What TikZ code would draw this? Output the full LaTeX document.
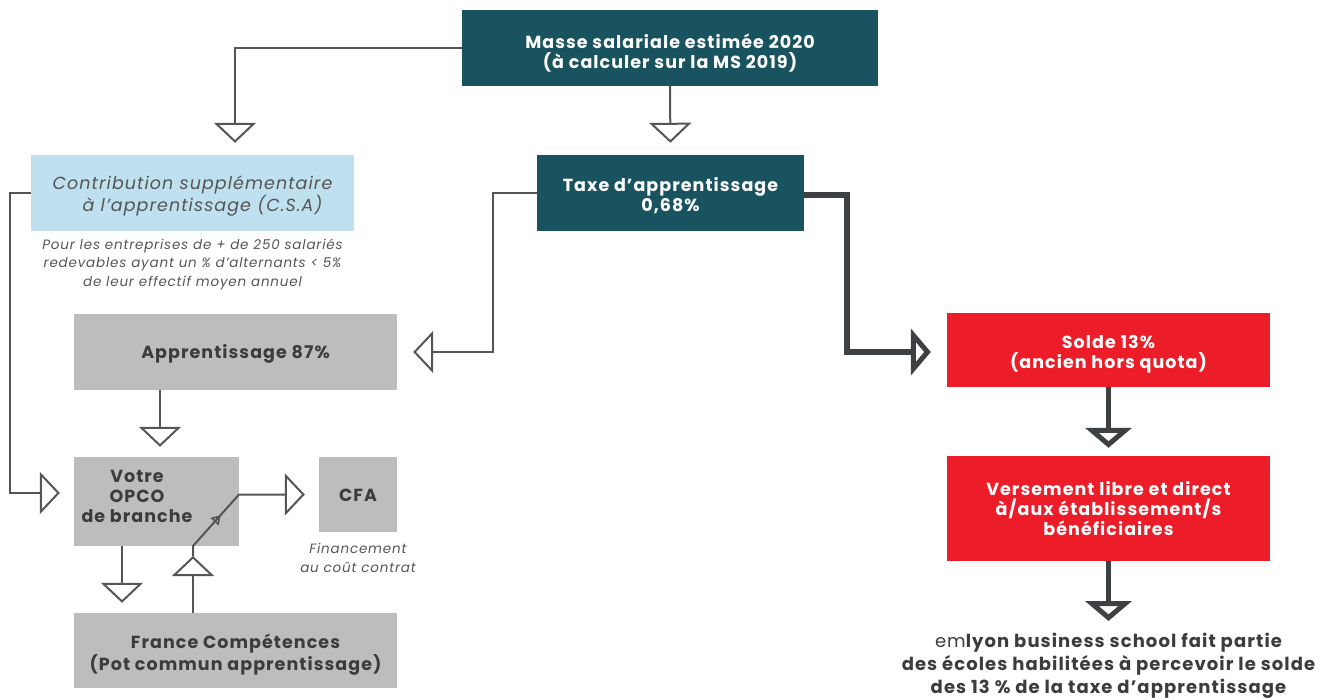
\documentclass[tikz,border=0pt]{standalone}
\usepackage{fontspec}
\setmainfont{Poppins}[LetterSpace=6]
\usetikzlibrary{arrows.meta,decorations.markings}
\definecolor{boxteal}{HTML}{1A5360}
\definecolor{boxblue}{HTML}{BEE0EF}
\definecolor{boxgray}{HTML}{BDBDBD}
\definecolor{boxred}{HTML}{EC1C28}
\definecolor{txtdark}{HTML}{3C3C3C}
\definecolor{txtgray}{HTML}{555555}
\definecolor{linegray}{HTML}{555555}
\definecolor{linedark}{HTML}{3D4143}
\begin{document}
\begin{tikzpicture}[x=1pt,y=-1pt,
  box/.style={inner sep=0pt},
  tealbox/.style={box, fill=boxteal},
  redbox/.style={box, fill=boxred},
  graybox/.style={box, fill=boxgray},
  bluebox/.style={box, fill=boxblue},
  btext/.style={inner sep=0pt, align=center, font=\fontsize{17.5}{20}\selectfont\bfseries},
  wtext/.style={btext, text=white},
  dtext/.style={btext, text=txtdark},
  itext/.style={inner sep=0pt, align=center, text=txtgray, font=\fontsize{17.5}{20}\selectfont\itshape},
  note/.style={inner sep=0pt, align=center, text=txtgray, font=\fontsize{13.5}{18.5}\selectfont\itshape},
  thinline/.style={draw=linegray, line width=2pt},
  thintip/.style={-{Triangle[open,length=20pt,width=42pt]}},
  thinarrow/.style={thinline, thintip},
  thickline/.style={draw=linedark, line width=5.5pt},
  thickarrow/.style={thickline, -{Triangle[open,length=20pt,width=46pt]}},
]
\useasboundingbox (0,0) rectangle (1330,700);

% boxes
\node[tealbox, minimum width=416pt, minimum height=76pt,
  label={[wtext, yshift=-5pt]center:{Masse salariale estimée 2020\\(à calculer sur la MS 2019)}}] (masse) at (670,48) {};
\node[tealbox, minimum width=267pt, minimum height=76pt,
  label={[wtext, yshift=-3pt]center:{Taxe d’apprentissage\\0,68\%}}] (taxe) at (670.5,193) {};
\node[bluebox, minimum width=323pt, minimum height=76pt,
  label={[itext, yshift=-3pt]center:{Contribution supplémentaire\\\hspace*{20pt}à l’apprentissage (C.S.A)}}] (csa) at (192.5,193) {};
\node[note] (csanote) at (192.5,264) {Pour les entreprises de + de 250 salariés\\redevables ayant un \% d’alternants < 5\%\\de leur effectif moyen annuel};
\node[graybox, minimum width=323pt, minimum height=76pt,
  label={[dtext, yshift=-2pt]center:{Apprentissage 87\%}}] (appr) at (235.5,352) {};
\node[graybox, minimum width=165pt, minimum height=89pt] (opco) at (156.5,501.5) {};
\node[dtext] (opcotext) at (137,496) {Votre\\OPCO\\de branche};
\node[graybox, minimum width=78pt, minimum height=75pt,
  label={[dtext, yshift=-1pt]center:{CFA}}] (cfa) at (358,494.5) {};
\node[note] (cfanote) at (358,558) {Financement\\au coût contrat};
\node[graybox, minimum width=323pt, minimum height=75pt,
  label={[dtext, yshift=-4pt]center:{France Compétences\\(Pot commun apprentissage)}}] (france) at (235.5,650.5) {};
\node[redbox, minimum width=323pt, minimum height=74pt,
  label={[wtext, yshift=-4pt]center:{Solde 13\%\\(ancien hors quota)}}] (solde) at (1108.5,350) {};
\node[redbox, minimum width=323pt, minimum height=105pt,
  label={[wtext]center:{Versement libre et direct\\à/aux établissement/s\\bénéficiaires}}] (vers) at (1108.5,508.5) {};
\node[inner sep=0pt, align=center, text=txtdark, font=\fontsize{18}{23}\selectfont\bfseries] (emlyon) at (1108.5,666) {{\mdseries em}lyon business school fait partie\\des écoles habilitées à percevoir le solde\\des 13 \% de la taxe d’apprentissage};

% coordinates
\coordinate (m1) at (235,48);
\coordinate (l1) at (10,193);
\coordinate (l2) at (10,493);
\coordinate (t1) at (493,193);
\coordinate (t2) at (493,352);
\coordinate (r1) at (847,195);
\coordinate (r2) at (847,352);
\coordinate (a1) at (160,390);
\coordinate (o1) at (122,546);
\coordinate (f0) at (193,613);
\coordinate (d0) at (193,556);
\coordinate (d1) at (193,546);
\coordinate (d2) at (239,494.5);
\coordinate (e1) at (1108.5,621);

% connectors
\draw[thinarrow, shorten >=12pt] (masse.west) -- (m1) -- (m1 |- csa.north);
\draw[thinarrow, shorten >=12pt] (masse.south) -- (taxe.north);
\draw[thinarrow, shorten >=14pt] (csa.west) -- (l1) -- (l2) -- (l2 -| opco.west);
\draw[thinarrow, shorten >=16pt] (taxe.west) -- (t1) -- (t2) -- (t2 -| appr.east);
\draw[thickarrow, shorten >=16pt] (taxe.east |- r1) -- (r1) -- (r2) -- (r2 -| solde.west);
\draw[thickarrow, shorten >=8pt] (solde.south) -- (vers.north);
\draw[thickarrow] (vers.south) -- (e1);
\draw[thinarrow, shorten >=10pt] (a1) -- (a1 |- opco.north);
\draw[thinarrow, shorten >=10pt] (o1) -- (o1 |- france.north);
\draw[thinarrow] (f0) -- (d0);
\draw[thinarrow, shorten >=14pt] (d0) -- (d1) -- (d2) -- (d2 -| cfa.west);
\draw[draw=none, postaction={decorate}, decoration={markings, mark=at position 0.6 with {\arrow[linegray, line width=1.6pt]{Triangle[open,length=9pt,width=11pt]}}}] (d1) -- (d2);
\end{tikzpicture}
\end{document}
